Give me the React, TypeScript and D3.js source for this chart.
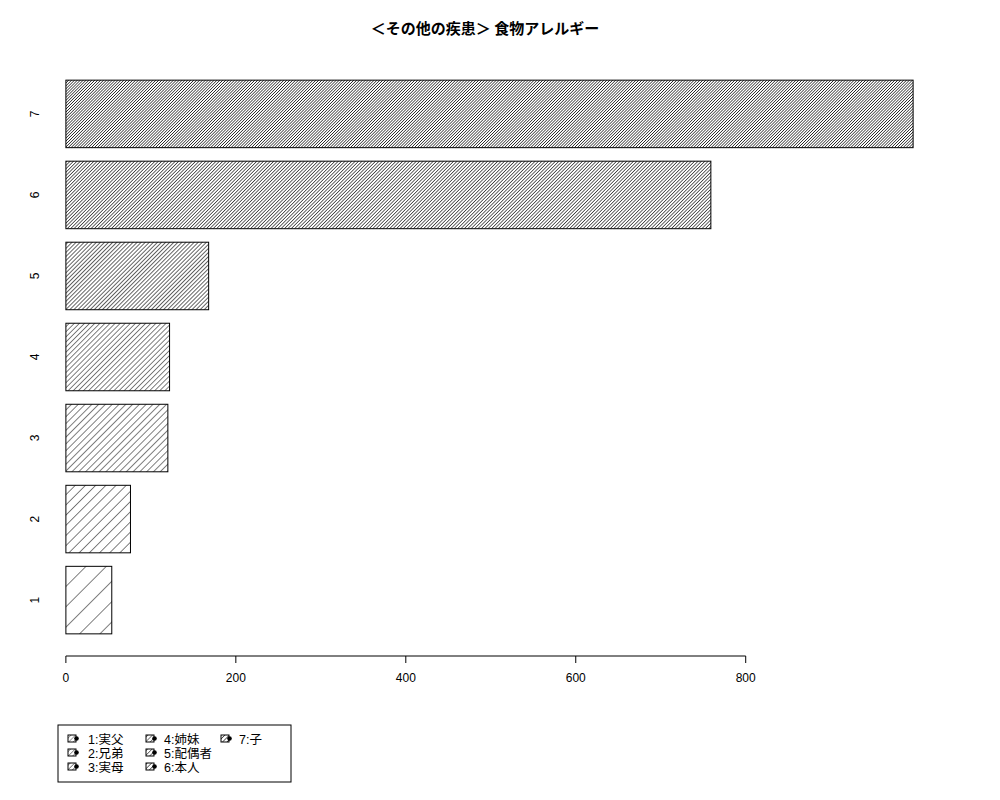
import React from "react";
import * as d3 from "d3";

const categories = ["1", "2", "3", "4", "5", "6", "7"];
const values = [54, 76, 120, 122, 168, 759, 997];
const densities = [5, 10, 15, 20, 25, 30, 35];
const xTicks = [0, 200, 400, 600, 800];
const legendLabels = ["1:実父", "2:兄弟", "3:実母", "4:姉妹", "5:配偶者", "6:本人", "7:子"];
const title = "＜その他の疾患＞ 食物アレルギー";

const W = 1000;
const H = 800;
const plotLeft = 32;
const plotRight = 947;
const plotTop = 58;
const plotBottom = 656;
const FONT = "'Liberation Sans', Arial, Helvetica, 'Noto Sans CJK JP', sans-serif";

export default function App() {
  const xMax = d3.max(values) as number;
  const pad = 0.04 * xMax;
  const x = d3.scaleLinear().domain([-pad, xMax + pad]).range([plotLeft, plotRight]);
  const n = values.length;
  const yLo = 0.2, yHi = n * 1.2;
  const ypad = 0.04 * (yHi - yLo);
  const y = d3.scaleLinear().domain([yLo - ypad, yHi + ypad]).range([plotBottom, plotTop]);

  const bars = values.map((v, i) => ({
    cat: categories[i],
    v,
    d: densities[i],
    b0: 0.2 + i * 1.2,
    b1: (i + 1) * 1.2,
  }));

  const legendCols = [
    { sym: 68, text: 88 },
    { sym: 146, text: 164 },
    { sym: 221, text: 239 },
  ];
  const legendRows = [739, 753, 767];

  return (
    <svg width={W} height={H} style={{ position: "absolute", left: 0, top: 0, background: "#fff" }} fontFamily={FONT}>
      <defs>
        {bars.map((b, i) => {
          const s = 72 / b.d;
          return (
            <pattern
              key={i}
              id={`hatch${i}`}
              patternUnits="userSpaceOnUse"
              width={s}
              height={s}
              patternTransform="rotate(45)"
            >
              <rect width={s} height={s} fill="#fff" />
              <line x1={0} y1={-1} x2={0} y2={s + 1} stroke="#000" strokeWidth={i >= 4 ? 1.2 : 1.0} />
            </pattern>
          );
        })}
        {bars.map((b, i) => {
          const s = 3.2;
          return (
            <pattern
              key={"l" + i}
              id={`lhatch${i}`}
              patternUnits="userSpaceOnUse"
              width={s}
              height={s}
              patternTransform="rotate(45)"
            >
              <rect width={s} height={s} fill="#fff" />
              <line x1={0} y1={-1} x2={0} y2={s + 1} stroke="#000" strokeWidth={0.7 + i * 0.08} />
            </pattern>
          );
        })}
      </defs>
      <rect x={0} y={0} width={W} height={H} fill="#fff" />
      <text x={485} y={34} textAnchor="middle" fontSize={15} fontWeight="bold" fontFamily={"'Noto Sans CJK JP', " + FONT}>
        {title}
      </text>
      {bars.map((b, i) => {
        const yt = y(b.b1);
        const yb = y(b.b0);
        return (
          <g key={i}>
            <rect
              x={x(0)}
              y={yt}
              width={x(b.v) - x(0)}
              height={yb - yt}
              fill={`url(#hatch${i})`}
              stroke="#000"
              strokeWidth={1}
            />
            <text
              transform={`translate(${39},${(yt + yb) / 2}) rotate(-90)`}
              textAnchor="middle"
              fontSize={12}
            >
              {b.cat}
            </text>
          </g>
        );
      })}
      <line x1={x(xTicks[0])} x2={x(xTicks[xTicks.length - 1])} y1={plotBottom} y2={plotBottom} stroke="#000" strokeWidth={1} />
      {xTicks.map((t) => (
        <g key={t}>
          <line x1={x(t)} x2={x(t)} y1={plotBottom} y2={plotBottom + 7} stroke="#000" strokeWidth={1} />
          <text x={x(t)} y={plotBottom + 26} textAnchor="middle" fontSize={12}>
            {t}
          </text>
        </g>
      ))}
      <rect x={58} y={725} width={233} height={57} fill="none" stroke="#000" strokeWidth={1} />
      {legendLabels.map((lab, i) => {
        const col = legendCols[Math.floor(i / 3)];
        const ry = legendRows[i % 3];
        return (
          <g key={lab}>
            <rect x={col.sym} y={ry - 4} width={8} height={7} fill={`url(#lhatch${i})`} stroke="#000" strokeWidth={1} />
            <circle cx={col.sym + 8.5} cy={ry - 0.5} r={2.3} fill="#000" />
            <text x={col.text} y={ry + 4.5} fontSize={12.5} fontFamily={"'Liberation Sans', Arial, 'Noto Sans CJK JP', sans-serif"}>
              {lab}
            </text>
          </g>
        );
      })}
    </svg>
  );
}
